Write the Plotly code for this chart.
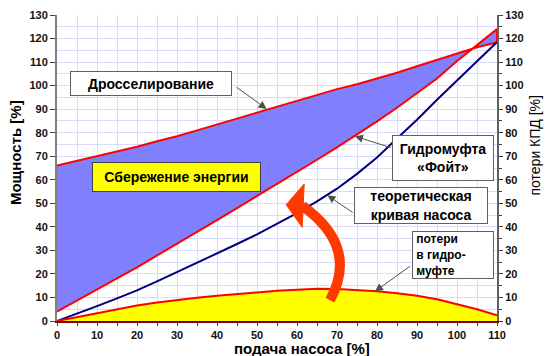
import plotly.graph_objects as go

# ---------------- data ----------------
flow = [0, 5, 10, 15, 20, 25, 30, 35, 40, 45, 50, 55, 60, 65, 70, 75, 80, 85, 90, 95, 100, 105, 110]

throttling = [66, 68, 70, 72, 74, 76.4, 78.5, 81, 83.5, 86, 88.8, 91.3, 93.8, 96.2, 98.5,
              100.6, 102.9, 105.5, 108.2, 110.9, 113.7, 116.3, 118.3]

coupling = [4, 8.7, 13.4, 18.1, 22.8, 27.8, 32.8, 37.8, 42.9, 48, 53.1, 58.2, 63.3, 68.5, 73.8,
            79.2, 84.8, 90.6, 96.7, 103, 110.5, 117.2, 124]

pump_theory = [0, 3, 6.3, 9.6, 13, 16.8, 20.7, 24.8, 28.8, 32.7, 36.8, 41.2, 45.8, 50.8, 56.2,
               62.5, 69.5, 77.5, 85.5, 94, 102.2, 110.5, 118.5]

coupling_losses = [0, 1.7, 3.4, 5.1, 6.6, 7.9, 9, 9.9, 10.7, 11.5, 12.2, 12.8, 13.3, 13.7, 13.6,
                   13.2, 12.6, 11.8, 10.7, 9.2, 7.2, 5, 2.4]

y_range = [0, 130]
x_range = [0, 110]

RED = "#FF0000"
FILL_BLUE = "#8080FF"
NAVY = "#000080"
YELLOW = "#FFFF00"
GRID = "#D9D9FB"
ARROW_RED = "#FF3A00"
FONT = "Liberation Sans, Arial, sans-serif"

fig = go.Figure()

# energy-saving area between throttling and coupling curves
fig.add_trace(go.Scatter(
    x=flow + flow[::-1], y=throttling + coupling[::-1],
    fill="toself", fillcolor=FILL_BLUE, mode="lines",
    line=dict(color=RED, width=2), hoverinfo="skip"))

# theoretical pump curve
fig.add_trace(go.Scatter(
    x=flow, y=pump_theory, mode="lines",
    line=dict(color=NAVY, width=2), hoverinfo="skip"))

# losses in the fluid coupling (right axis)
fig.add_trace(go.Scatter(
    x=flow, y=coupling_losses, mode="lines", fill="tozeroy", fillcolor=YELLOW,
    line=dict(color=RED, width=2), yaxis="y2", hoverinfo="skip"))

tickfont = dict(family=FONT, size=11, color="#111111")

fig.update_layout(
    width=545, height=356,
    margin=dict(l=57, r=48, t=9, b=35),
    plot_bgcolor="white", paper_bgcolor="white",
    showlegend=False,
    font=dict(family=FONT, color="black"),
    xaxis=dict(range=x_range, dtick=10, tick0=0, showgrid=True, gridcolor=GRID, gridwidth=1,
               zeroline=False, showline=True, linecolor="#800000", linewidth=2,
               ticks="outside", ticklen=3, tickcolor="#404040", tickfont=tickfont,
               tickprefix="<b>", ticksuffix="</b>",
               minor=dict(dtick=5, showgrid=True, gridcolor=GRID, ticks="outside",
                          ticklen=3, tickcolor="#404040")),
    yaxis=dict(range=y_range, dtick=10, tick0=0, showgrid=True, gridcolor=GRID, gridwidth=1,
               zeroline=False, showline=True, linecolor="#808080", linewidth=2,
               ticks="outside", ticklen=5, tickcolor="#404040", tickfont=tickfont,
               tickprefix="<b>", ticksuffix="</b>", layer="below traces",
               minor=dict(dtick=5, showgrid=True, gridcolor=GRID)),
    yaxis2=dict(range=y_range, dtick=10, tick0=0, overlaying="y", side="right",
                showgrid=False, zeroline=False, showline=True, linecolor="#606060", linewidth=2,
                ticks="outside", ticklen=4, tickcolor="#404040", tickfont=tickfont,
                tickprefix="<b>", ticksuffix="</b>",
                minor=dict(dtick=5, ticks="outside", ticklen=3, tickcolor="#404040")),
)

annotations = []

# axis titles
annotations.append(dict(text="<b>Мощность [%]</b>", xref="paper", yref="paper", x=-0.0955, y=0.552,
                        xanchor="center", yanchor="middle",
                        textangle=-90, showarrow=False, font=dict(family=FONT, size=15)))
annotations.append(dict(text="потери КПД [%]", xref="paper", yref="paper", x=1.086, y=0.573,
                        xanchor="center", yanchor="middle",
                        textangle=-90, showarrow=False, font=dict(family=FONT, size=14)))
annotations.append(dict(text="<b>подача насоса [%]</b>", xref="paper", yref="paper", x=0.556, y=-0.0895,
                        xanchor="center", yanchor="middle",
                        showarrow=False, font=dict(family=FONT, size=15)))

box_font = dict(family=FONT, size=14, color="black")

def box(text, x, y, w, h, bg="white", border="#606060", size=14, align="center"):
    annotations.append(dict(text=text, xref="x", yref="y", x=x, y=y, showarrow=False,
                            bgcolor=bg, bordercolor=border, borderwidth=1, borderpad=0,
                            width=w - 2, height=h - 2,
                            font=dict(family=FONT, size=size, color="black"), align=align))

def arrow(x0, y0, x1, y1):
    annotations.append(dict(text="", xref="x", yref="y", axref="x", ayref="y",
                            x=x1, y=y1, ax=x0, ay=y0, showarrow=True,
                            arrowhead=2, arrowsize=1.6, arrowwidth=1, arrowcolor="#505050",
                            standoff=0, startstandoff=0))

box("<b>Дросселирование</b>", 23.45, 100.9, 162, 25)
box("<b>Сбережение энергии</b>", 29.8, 61.3, 169, 30, bg=YELLOW, border="#404040")
box("<b>Гидромуфта<br>«Фойт»</b>", 96.4, 69.1, 102, 46)
box("<b>теоретическая<br>кривая насоса</b>", 91.1, 49.2, 134, 37)
box("<b> потери<br> в гидро-<br> муфте</b>", 98.95, 28.2, 82, 48, size=12, align="left")

arrow(44.5, 99.8, 52.4, 90.1)
arrow(83.7, 73.5, 74.5, 78.5)
arrow(74.3, 45.7, 67.6, 53.4)
arrow(88.7, 23.8, 79.5, 12.6)

shapes = []
# big curved orange arrow
shapes.append(dict(type="path", xref="x", yref="y", layer="above",
                   path="M 68.25,8.9 C 72.5,22 72,36 61.35,48.9",
                   line=dict(color=ARROW_RED, width=10)))
shapes.append(dict(type="path", xref="x", yref="y", layer="above",
                   path="M 57.3,49.4 L 61.8,58.2 L 61.3,39.8 Z",
                   fillcolor=ARROW_RED, line=dict(color=ARROW_RED, width=1)))

fig.update_layout(annotations=annotations, shapes=shapes)

fig.write_html("out.html",
               config={"displayModeBar": False},
               post_script="document.body.style.margin='0';document.body.style.padding='0';")
